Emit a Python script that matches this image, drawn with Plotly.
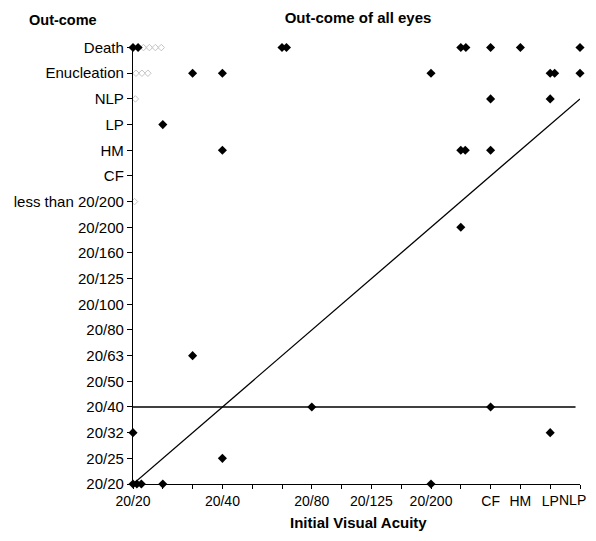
import plotly.graph_objects as go

# Category labels (ordinal scale positions 0..17)
outcome_labels = ["20/20", "20/25", "20/32", "20/40", "20/50", "20/63", "20/80",
                  "20/100", "20/125", "20/160", "20/200", "less than 20/200",
                  "CF", "HM", "LP", "NLP", "Enucleation", "Death"]
initial_labels = outcome_labels[:16]
initial_shown = ["20/20", "20/40", "20/80", "20/125", "20/200", "CF", "HM", "LP"]
initial_last = "NLP"  # last label, drawn flush with the right edge

# Eyes: initial visual acuity position (small offsets = side-by-side duplicates), outcome position
initial_va = [0, 0.17, 5, 5.15, 11, 11.17, 12, 13, 15,
              2, 3, 10, 14, 14.15, 15,
              12, 14,
              1,
              3, 11, 11.15, 12,
              11,
              2,
              6, 12,
              0, 14,
              3,
              0, 0.13, 0.28, 1, 10]
outcome = [17, 17, 17, 17, 17, 17, 17, 17, 17,
           16, 16, 16, 16, 16, 16,
           15, 15,
           14,
           13, 13, 13, 13,
           10,
           5,
           3, 3,
           2, 2,
           1,
           0, 0, 0, 0, 0]

# faded (gray) break marks next to the axis
faded_x = [0.35, 0.55, 0.75, 0.95, 0.1, 0.3, 0.5, 0.08, 0.05]
faded_y = [17, 17, 17, 17, 16, 16, 16, 15, 11]

# reference lines
diag_x = [0, 15]
diag_y = [0, 15]
hline_x = [0, 14.85]
hline_y = [3, 3]

font = "Liberation Sans, Arial, sans-serif"

# page body has an 8px margin; figure placed at (8, 8)
W, H = 580, 525
L, T, PW, PH = 125, 37, 447, 439

fig = go.Figure()
fig.add_trace(go.Scatter(x=diag_x, y=diag_y, mode="lines",
                         line=dict(color="black", width=1.3), cliponaxis=False,
                         showlegend=False, hoverinfo="skip"))
fig.add_trace(go.Scatter(x=hline_x, y=hline_y, mode="lines",
                         line=dict(color="black", width=1.3), cliponaxis=False,
                         showlegend=False, hoverinfo="skip"))
fig.add_trace(go.Scatter(x=faded_x, y=faded_y, mode="markers",
                         marker=dict(symbol="diamond-open", size=5, color="#c4c4c4",
                                     line=dict(width=1, color="#c4c4c4")),
                         cliponaxis=False, showlegend=False))
fig.add_trace(go.Scatter(x=initial_va, y=outcome, mode="markers",
                         marker=dict(symbol="diamond", size=7, color="black"),
                         cliponaxis=False, showlegend=False))

fig.update_layout(
    width=W, height=H,
    margin=dict(l=L, r=W-L-PW, t=T, b=H-T-PH, autoexpand=False),
    paper_bgcolor="white", plot_bgcolor="white",
    font=dict(family=font, size=15, color="black"),
    title=dict(text="<b>Out-come of all eyes</b>", x=(358-8)/W, xanchor="center",
               y=1-(18-8)/H, yanchor="middle", font=dict(size=15, family=font)),
    xaxis=dict(range=[0, 15], tickmode="array", tickvals=list(range(16)),
               ticktext=[l if l in initial_shown else "" for l in initial_labels],
               showgrid=False, zeroline=False, showline=True, linecolor="black",
               linewidth=1.3, ticks="outside", ticklen=4, tickcolor="black",
               automargin=False, tickfont=dict(size=14, family=font)),
    yaxis=dict(range=[0, 17.1], tickmode="array", tickvals=list(range(18)),
               ticktext=outcome_labels, showgrid=False, zeroline=False,
               showline=True, linecolor="black", linewidth=1.3, ticks="outside",
               ticklen=5, tickcolor="black", automargin=False,
               tickfont=dict(size=15, family=font)),
    annotations=[
        dict(text="<b>Out-come</b>", xref="paper", yref="paper",
             x=(63-133)/PW, y=(484-20)/PH, xanchor="center", yanchor="middle",
             showarrow=False, font=dict(size=14.5, family=font)),
        dict(text="<b>Initial Visual Acuity</b>", xref="paper", yref="paper",
             x=(358-133)/PW, y=(484-522)/PH, xanchor="center", yanchor="middle",
             showarrow=False, font=dict(size=15, family=font)),
        dict(text=initial_last, xref="paper", yref="paper",
             x=1, xshift=W-L-PW, y=(484-500)/PH, xanchor="right", yanchor="middle",
             showarrow=False, font=dict(size=14, family=font)),
    ],
)

fig.write_html("out.html")
